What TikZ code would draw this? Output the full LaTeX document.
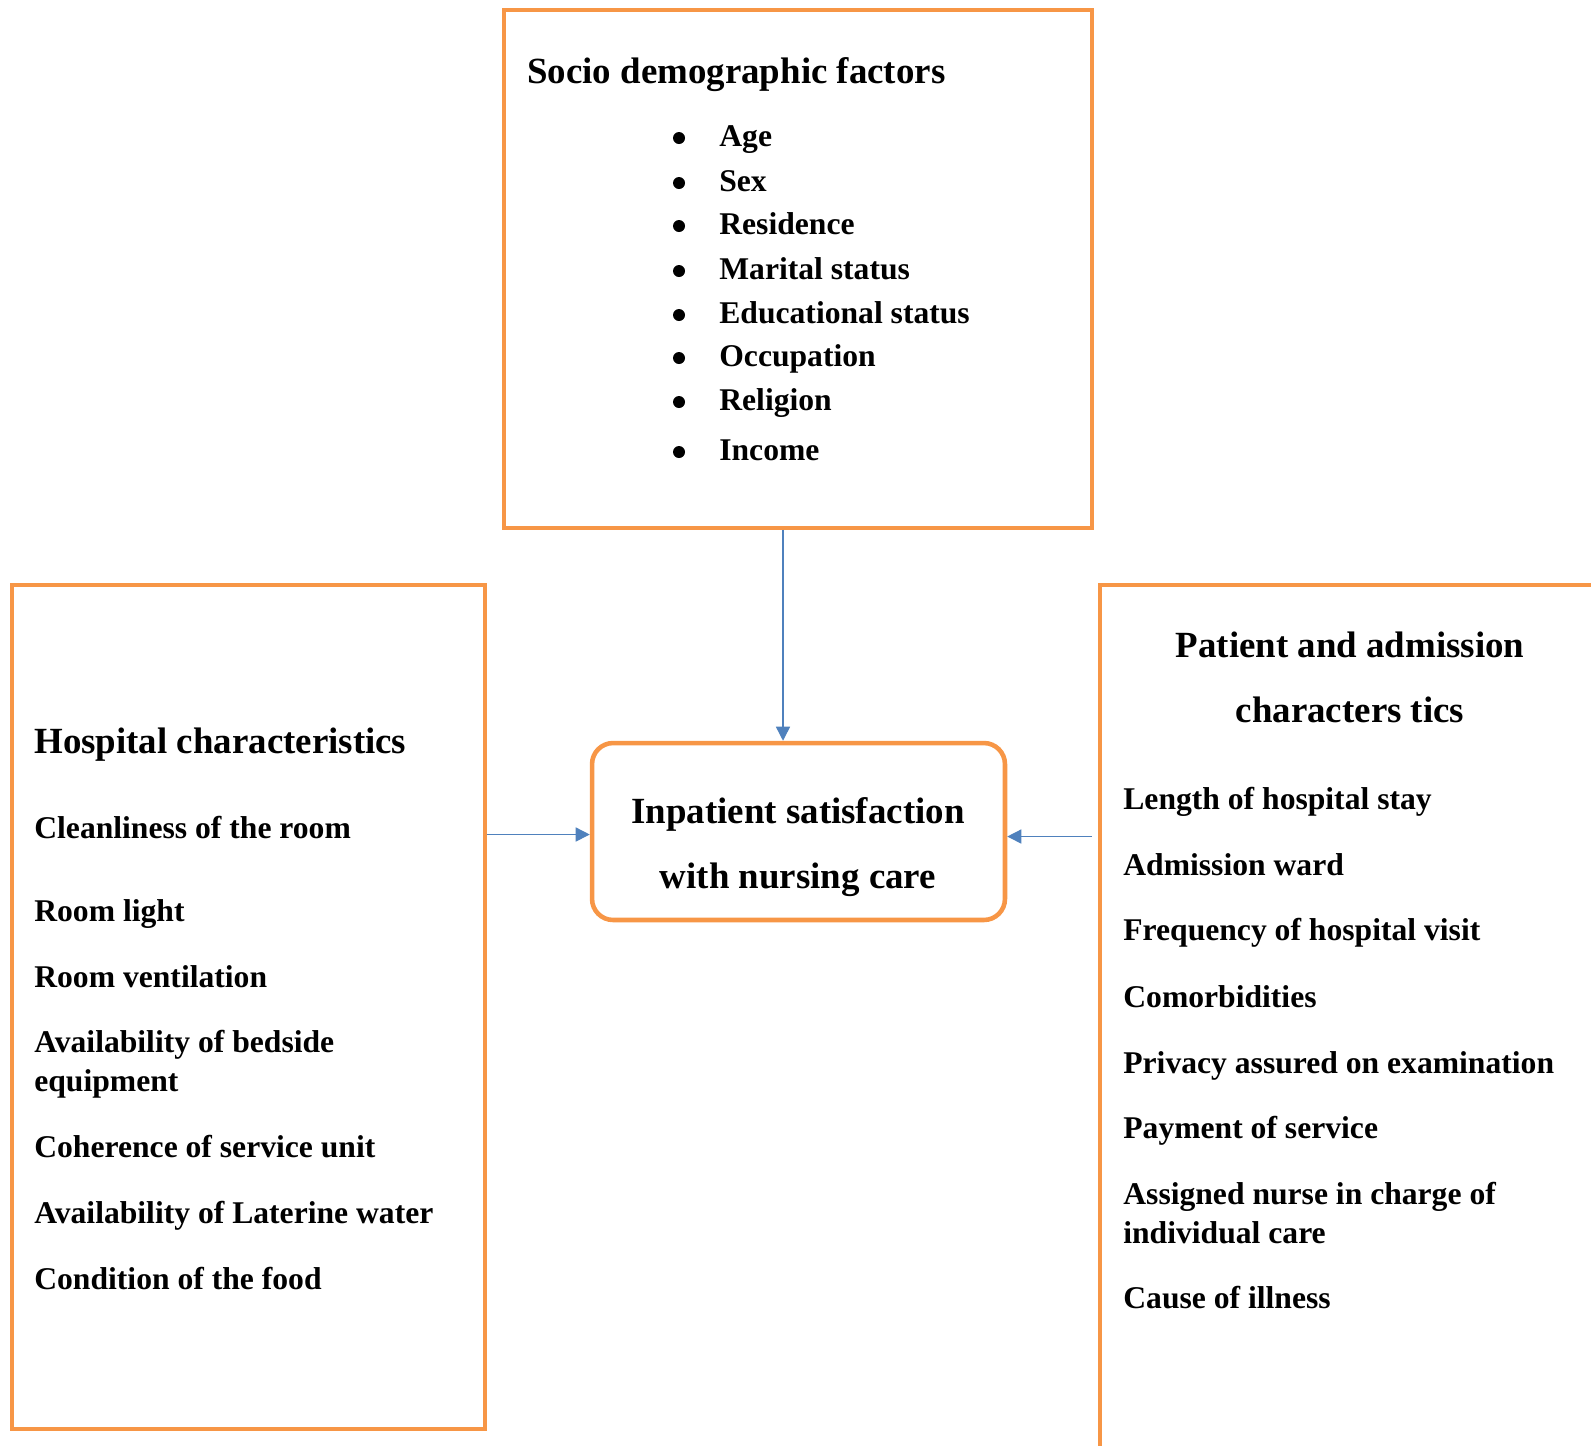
\documentclass[tikz,border=0pt]{standalone}
\usepackage{fontspec}
\setmainfont{Liberation Serif}
\usetikzlibrary{arrows.meta, positioning, calc}
\definecolor{BoxOrange}{HTML}{F79646}
\definecolor{LinkBlue}{HTML}{4F81BD}
\tikzset{
  panel/.style={draw=BoxOrange, line width=2.3pt, inner sep=0pt},
  headline/.style={anchor=base west, inner sep=0pt, font=\fontsize{21}{25}\selectfont\bfseries},
  itemline/.style={anchor=base west, inner sep=0pt, align=left, font=\fontsize{18}{22}\selectfont\bfseries},
  dotmark/.style={circle, fill=black, inner sep=0pt, minimum size=0.24cm},
  link/.style={draw=LinkBlue, line width=0.8pt, -{Triangle[length=8pt,width=8pt]}}
}

\begin{document}
\begin{tikzpicture}[x=0.02cm, y=-0.02cm]
\clip (0,0) rectangle (1591,1445);

% the four boxes
\node[panel, minimum width=11.76cm, minimum height=10.36cm] (topbox) at (798,269) {};
\node[panel, minimum width=9.46cm, minimum height=16.88cm] (hospbox) at (248.5,1007) {};
\node[panel, minimum width=10.84cm, minimum height=17.9cm] (patbox) at (1371,1032.5) {};
\node[panel, line width=2.6pt, rounded corners=12pt, minimum width=8.26cm, minimum height=3.54cm] (inbox) at (798.5,831.5) {};

% socio demographic factors
\node[headline] (soctitle) at (527,83) {Socio demographic factors};
\foreach \txt/\yy [count=\i] in {Age/146, Sex/191, Residence/234, Marital status/279,
    Educational status/323, Occupation/366, Religion/410, Income/460} {
  \node[dotmark] (dot\i) at (679,\yy-8) {};
  \node[itemline] (soc\i) at (719,\yy) {\txt};
}

% hospital characteristics
\node[headline] (hosptitle) at (34,753) {Hospital characteristics};
\foreach \txt/\yy [count=\i] in {Cleanliness of the room/838, Room light/921,
    Room ventilation/987, {Availability of bedside\\equipment}/1091,
    Coherence of service unit/1157, Availability of Laterine water/1223,
    Condition of the food/1289} {
  \node[itemline] (hosp\i) at (34,\yy) {\txt};
}

% patient and admission characteristics (base = last line)
\node[headline, anchor=base, align=center, font=\fontsize{21}{36.8}\selectfont\bfseries] (pattitle) at (1350,722)
  {Patient and admission\\characters tics};
\foreach \txt/\yy [count=\i] in {Length of hospital stay/809, Admission ward/875,
    Frequency of hospital visit/940, Comorbidities/1007,
    Privacy assured on examination/1073, Payment of service/1138,
    {Assigned nurse in charge of\\individual care}/1243, Cause of illness/1308} {
  \node[itemline] (pat\i) at (1123,\yy) {\txt};
}

% outcome
\node[headline, anchor=base, align=center, font=\fontsize{21}{36.8}\selectfont\bfseries] (intext) at (798,888)
  {Inpatient satisfaction\\with nursing care};

% arrows
\draw[link] ($(topbox.south)+(-15,0)$) -- ($(inbox.north)+(-15.5,0)$);
\draw[link] ($(hospbox.east |- inbox.west)+(0,3)$) -- ($(inbox.west)+(0,3)$);
\draw[link] ($(patbox.west |- inbox.east)+(-6,5)$) -- ($(inbox.east)+(0,5)$);
\end{tikzpicture}
\end{document}
